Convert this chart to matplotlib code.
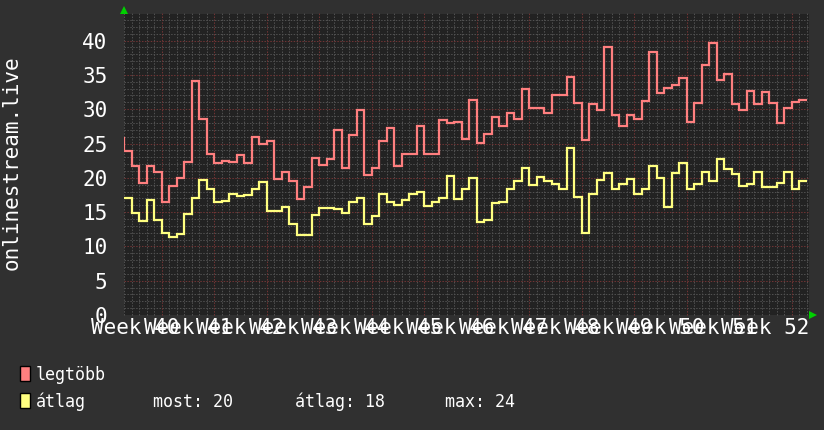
import numpy as np
import matplotlib
matplotlib.use("Agg")
import matplotlib.pyplot as plt
from matplotlib.patches import Rectangle

# ---- data (daily values, day 0 = start of week 40) ----
first_day = 1
legtobb = [25.8,
           23.9, 21.7, 19.3, 21.7, 20.9, 16.5, 18.8, 19.9, 22.3, 34.1,
           28.6, 23.5, 22.2, 22.5, 22.3, 23.3, 22.2, 25.9, 25.0, 25.4,
           19.8, 20.9, 19.6, 16.9, 18.6, 22.9, 21.9, 22.8, 27.0, 21.4,
           26.3, 29.9, 20.4, 21.4, 25.4, 27.2, 21.7, 23.5, 23.4, 27.6,
           23.5, 23.5, 28.4, 28.0, 28.2, 25.7, 31.4, 25.1, 26.4, 28.8,
           27.6, 29.5, 28.6, 33.0, 30.2, 30.2, 29.5, 32.1, 32.0, 34.7,
           30.9, 25.5, 30.8, 29.9, 39.1, 29.1, 27.6, 29.2, 28.6, 31.2,
           38.4, 32.4, 33.1, 33.5, 34.5, 28.1, 30.9, 36.4, 39.7, 34.3,
           35.1, 30.8, 29.9, 32.7, 30.8, 32.5, 30.9, 28.0, 30.2, 31.0,
           31.4]
atlag = [17.0,
         17.0, 14.8, 13.7, 16.8, 13.9, 11.9, 11.3, 11.8, 14.7, 17.1,
         19.7, 18.4, 16.5, 16.6, 17.6, 17.4, 17.5, 18.4, 19.4, 15.2,
         15.1, 15.7, 13.2, 11.7, 11.7, 14.6, 15.6, 15.6, 15.5, 14.8,
         16.5, 17.0, 13.2, 14.5, 17.6, 16.5, 16.0, 16.7, 17.6, 18.0,
         15.9, 16.5, 17.1, 20.3, 16.9, 18.4, 20.0, 13.6, 13.9, 16.3,
         16.5, 18.4, 19.5, 21.5, 19.0, 20.1, 19.6, 19.1, 18.4, 24.4,
         17.2, 12.0, 17.6, 19.7, 20.7, 18.4, 19.1, 19.8, 17.6, 18.4,
         21.7, 20.0, 15.8, 20.7, 22.1, 18.4, 19.1, 20.9, 19.5, 22.8,
         21.3, 20.6, 18.8, 19.1, 20.9, 18.6, 18.7, 19.3, 20.9, 18.3,
         19.6]
week_numbers = list(range(40, 53))
week_labels = ["Week %d" % w for w in week_numbers]
y_ticks = [0, 5, 10, 15, 20, 25, 30, 35, 40]
series_names = ["legtöbb", "átlag"]
stat_texts = ["most: 20", "átlag: 18", "max: 24"]
ylabel = "onlinestream.live"

# ---- style ----
W, H = 824, 430
BG = "#303030"
PLOT_BG = "#222222"
MINOR = "#505050"
MAJOR = "#703434"
RED = "#ff7f7f"
YEL = "#ffff80"
FONT = "DejaVu Sans Mono"

def fx(px):
    return px / W

def fy(py):
    return 1 - py / H

fig = plt.figure(figsize=(W / 100, H / 100), dpi=100, facecolor=BG)
left, right, top, bottom = 124, 809, 14, 315
ax = fig.add_axes([fx(left), fy(bottom), fx(right - left), (bottom - top) / H])
ax.set_facecolor(PLOT_BG)

x0, x1 = 1.97, 93.3
y0, y1 = 0, 43.88
ax.set_xlim(x0, x1)
ax.set_ylim(y0, y1)

ext = 2.5 * (y1 - y0) / (bottom - top)  # small tick extension above plot
dash = (0, (1.4, 1.4))
days_grid = np.arange(2, 94)
minor_days = [d for d in days_grid if d % 7 != 0]
major_days = [d for d in days_grid if d % 7 == 0]
ax.vlines(minor_days, y0, y1 + ext, colors=MINOR, linestyles=dash, lw=0.75,
          clip_on=False, zorder=1)
ax.vlines(major_days, y0, y1 + ext, colors=MAJOR, linestyles=dash, lw=0.75,
          clip_on=False, zorder=1.1)
hv = np.arange(1, 44)
ax.hlines([v for v in hv if v % 5 != 0], x0, x1, colors=MINOR, linestyles=dash,
          lw=0.75, zorder=1)
ax.hlines([v for v in hv if v % 5 == 0], x0, x1, colors=MAJOR, linestyles=dash,
          lw=0.75, zorder=1.1)

edges = np.arange(first_day, first_day + len(legtobb) + 1)
ax.stairs(legtobb, edges, baseline=None, color=RED, lw=1.6, zorder=3)
ax.stairs(atlag, edges, baseline=None, color=YEL, lw=1.6, zorder=3)

for s in ax.spines.values():
    s.set_visible(False)

ax.set_yticks(y_ticks)
ax.set_yticklabels([str(v) for v in y_ticks])
ax.set_xticks([3.5 + 7 * (w - 40) for w in week_numbers])
ax.set_xticklabels(week_labels)
ax.tick_params(axis="both", length=0, colors="white", labelsize=15)
ax.tick_params(axis="y", pad=12)
ax.tick_params(axis="x", pad=2)
for lab in ax.get_xticklabels() + ax.get_yticklabels():
    lab.set_family(FONT)

fig.text(fx(12), fy(163), ylabel, rotation=90, ha="center", va="center",
         color="white", fontsize=15, family=FONT)

fig.add_artist(plt.Line2D([fx(124)], [fy(10)], marker="^", ms=6, color="#00d000",
                          markeredgewidth=0, transform=fig.transFigure))
fig.add_artist(plt.Line2D([fx(813)], [fy(315)], marker=">", ms=6, color="#00d000",
                          markeredgewidth=0, transform=fig.transFigure))

for (ytop, col) in [(366, RED), (393, YEL)]:
    fig.add_artist(Rectangle((fx(20), fy(ytop + 15)), fx(10), 15 / H,
                             facecolor=col, edgecolor="black", lw=1,
                             transform=fig.transFigure))
lfs = 12
fig.text(fx(36), fy(380), series_names[0], color="white", fontsize=lfs,
         family=FONT, va="baseline", ha="left")
fig.text(fx(36), fy(407), series_names[1], color="white", fontsize=lfs,
         family=FONT, va="baseline", ha="left")
for xp, t in zip([153, 295, 445], stat_texts):
    fig.text(fx(xp), fy(407), t, color="white", fontsize=lfs, family=FONT,
             va="baseline", ha="left")

fig.savefig("out.png", dpi=100, facecolor=BG)
